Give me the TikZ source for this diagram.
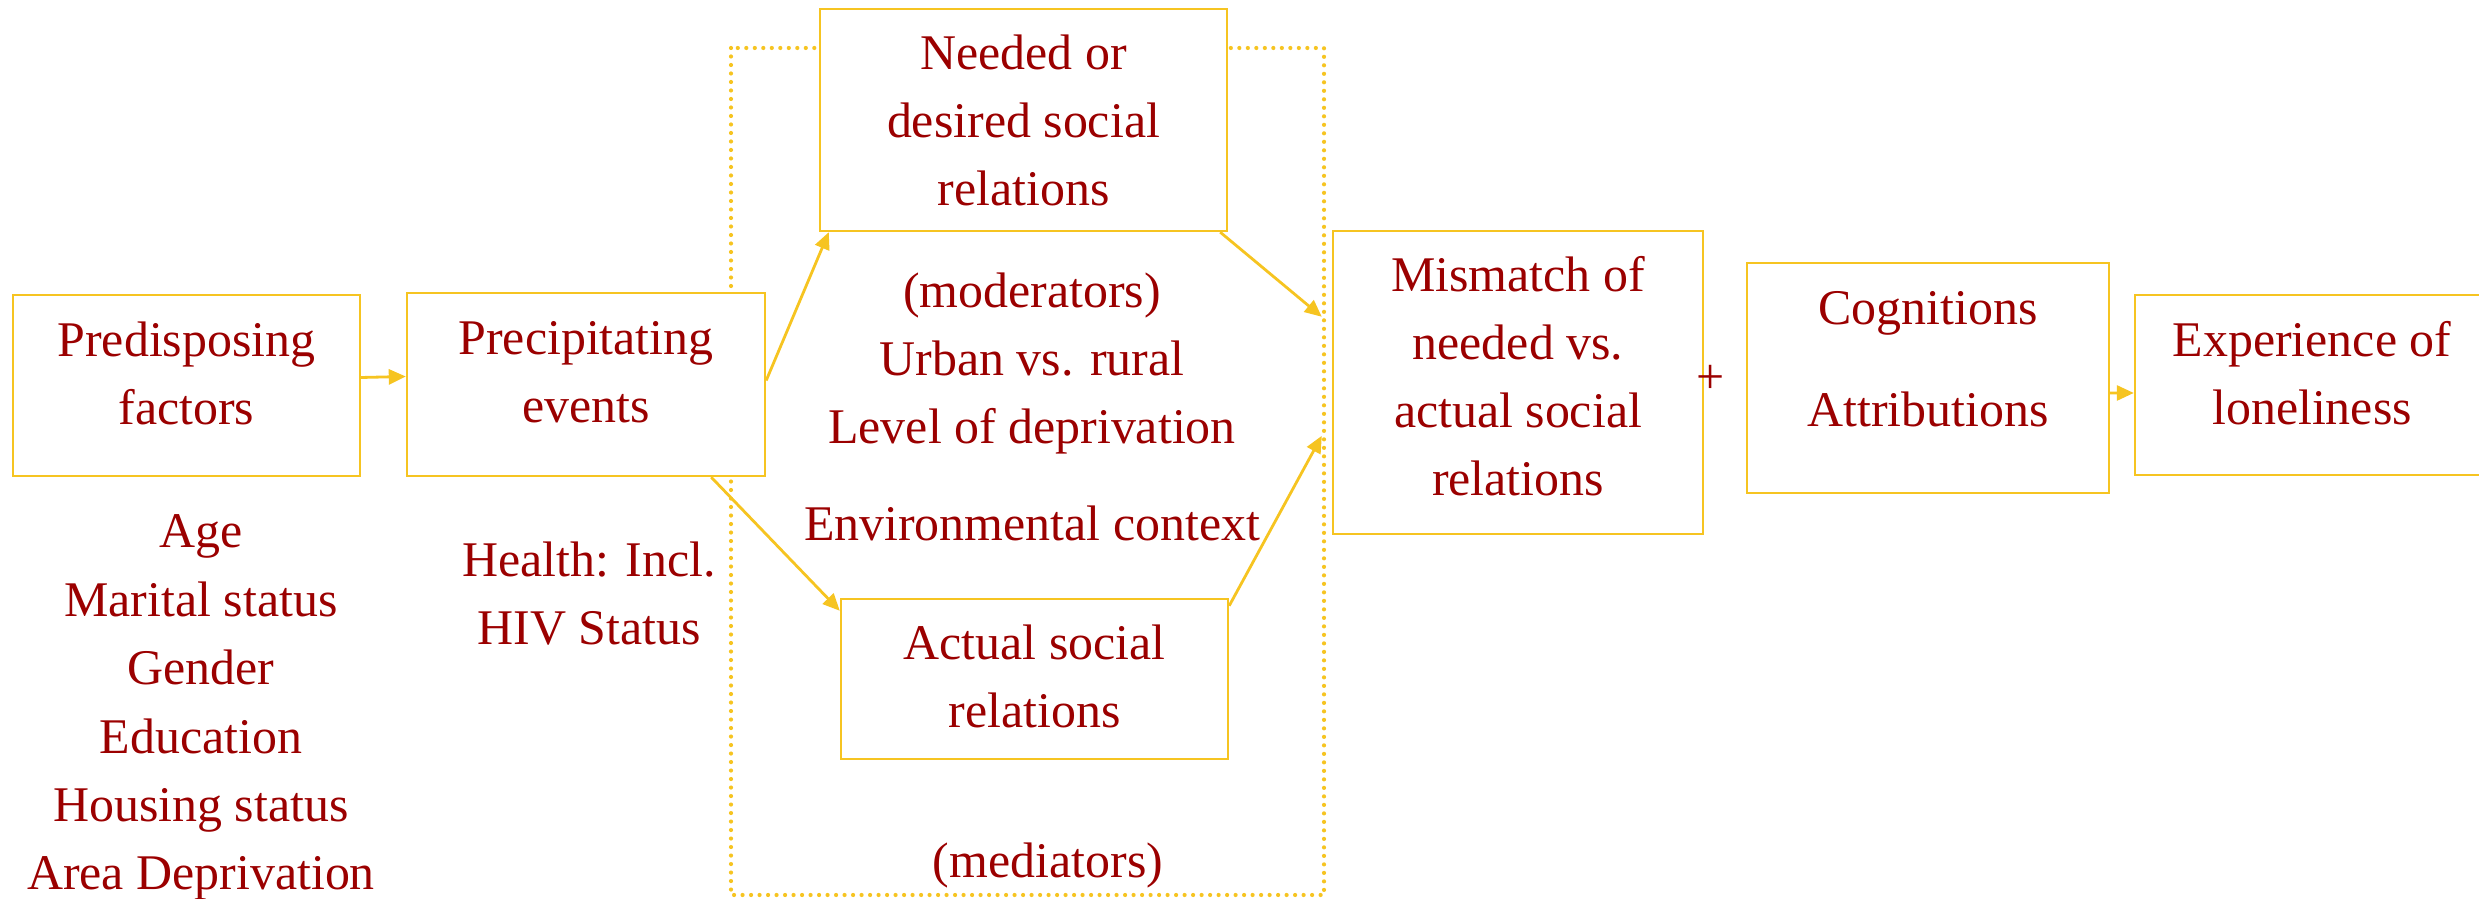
\documentclass[tikz,border=0pt]{standalone}
\usepackage{fontspec}
\setmainfont{Liberation Serif}
\usetikzlibrary{arrows.meta}

\definecolor{txtred}{RGB}{155,0,0}
\definecolor{gold}{RGB}{246,196,33}

\tikzset{
    box/.style={draw=gold, line width=0.024cm, fill=white, align=center, inner sep=0pt,
        text=txtred, font=\fontsize{14.2pt}{19.4pt}\selectfont, text depth=0pt},
    lbl/.style={text=txtred, align=center, inner sep=0pt, font=\fontsize{14.2pt}{19.4pt}\selectfont},
    arr/.style={draw=gold, line width=0.028cm, -{Triangle[length=0.17cm,width=0.15cm]}},
    dots/.style={draw=gold, line width=0.042cm, line cap=round, dash pattern=on 0pt off 0.085cm}
}

\begin{document}
\begin{tikzpicture}
    \useasboundingbox (0,0) rectangle (24.79,-8.99);

    % Draw the dotted frame round the social relations
    \draw[dots] (7.31,-0.48) rectangle (13.24,-8.95);

    % Draw the boxes
    \node[box, minimum width=3.47cm, minimum height=1.81cm, text height=0.79cm] (pred) at (1.865,-3.855) {Predisposing\\factors};
    \node[box, minimum width=3.58cm, minimum height=1.83cm, text height=0.77cm] (prec) at (5.86,-3.845) {Precipitating\\events};
    \node[box, minimum width=4.07cm, minimum height=2.22cm, text height=1.72cm] (needed) at (10.235,-1.20) {Needed or\\desired social\\relations};
    \node[box, minimum width=3.87cm, minimum height=1.60cm, text height=0.98cm] (actual) at (10.345,-6.79) {Actual social\\relations};
    \node[box, minimum width=3.70cm, minimum height=3.03cm, text height=2.27cm] (mismatch) at (15.18,-3.825) {Mismatch of\\needed vs.\\actual social\\relations};
    \node[box, minimum width=3.62cm, minimum height=2.30cm, text height=0.98cm] (cog) at (19.28,-3.78) {Cognitions\\[0.34cm]Attributions};
    \node[box, minimum width=3.54cm, minimum height=1.80cm, text height=0.80cm] (exp) at (23.12,-3.85) {Experience of\\loneliness};

    % Draw the texts beside the boxes
    \foreach \t [count=\i from 0] in {Age, Marital status, Gender, Education, Housing status, Area Deprivation} {
        \node[lbl, anchor=base] (f\i) at (2.01,{-5.48-0.684*\i}) {\t};
    }
    \node[lbl, anchor=base] (health) at (5.89,-6.45) {Health: Incl.\\HIV Status};
    \node[lbl, anchor=base] (moder) at (10.32,-5.41) {(moderators)\\Urban vs. rural\\Level of deprivation\\[0.29cm]Environmental context};
    \node[lbl, anchor=base] (medi) at (10.48,-8.78) {(mediators)};
    \node[lbl] (plus) at (17.11,-3.79) {+};

    % Draw the arrows
    \draw[arr] ([yshift=0.08cm]pred.east) -- ([yshift=0.08cm]prec.west);
    \draw[arr] ([yshift=0.04cm]prec.east) -- ([xshift=0.1cm]needed.south west);
    \draw[arr] ([xshift=-0.55cm]prec.south east) -- ([yshift=-0.13cm]actual.north west);
    \draw[arr] ([xshift=-0.08cm]needed.south east) -- ([xshift=-0.1cm,yshift=-0.87cm]mismatch.north west);
    \draw[arr] ([yshift=-0.08cm]actual.north east) -- ([xshift=-0.1cm,yshift=-2.06cm]mismatch.north west);
    \draw[arr] ([yshift=-0.15cm]cog.east) -- ([yshift=-0.08cm]exp.west);

\end{tikzpicture}
\end{document}
